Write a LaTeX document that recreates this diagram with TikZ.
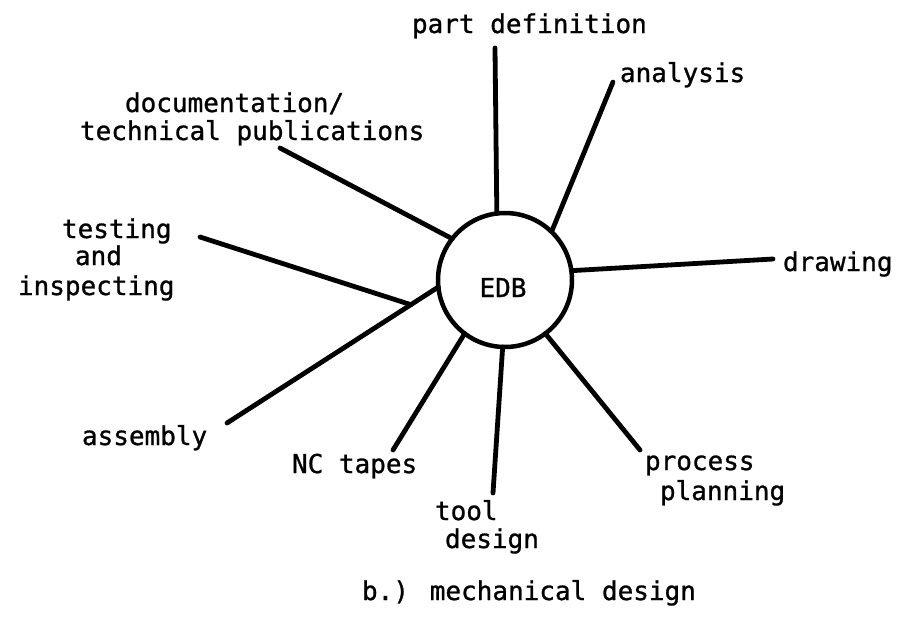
\documentclass[tikz,border=0pt]{standalone}
\usepackage{fontspec}
\newfontfamily\typewriter[FakeBold=1]{DejaVu Sans Mono}
\usetikzlibrary{calc}
\begin{document}
\begin{tikzpicture}[x=1pt,y=-1pt,
  spoke/.style={line width=4.8pt,line cap=round},
  lbl/.style={anchor=base west,inner sep=0pt,outer sep=0pt,
    font=\typewriter\fontsize{26}{28}\selectfont}]
\useasboundingbox (0,0) rectangle (911,629);

% central data base
\node[circle,draw,line width=4.5pt,minimum size=134pt,inner sep=0pt,outer sep=0pt] (edb) at (505,280) {};
\node[lbl,anchor=base] (edbtext) at (503,297) {EDB};

% free ends of the spokes
\coordinate (pdEnd)   at (495,48);
\coordinate (anEnd)   at (613,82);
\coordinate (docEnd)  at (280,148);
\coordinate (drEnd)   at (773,259);
\coordinate (testEnd) at (200,237);
\coordinate (asmEnd)  at (227,423);
\coordinate (ncEnd)   at (393,450);
\coordinate (toolEnd) at (493,493);
\coordinate (procEnd) at (640,450);

% spokes
\draw[spoke] (edb.97)  -- (pdEnd);
\draw[spoke] (edb.46)  -- (anEnd);
\draw[spoke] (edb.142) -- (docEnd);
\draw[spoke] (edb.8)   -- (drEnd);
\draw[spoke] (edb.186) -- (asmEnd);
\coordinate (testJoin) at ($(edb.186)!0.13!(asmEnd)$);
\draw[spoke] (testJoin) -- (testEnd);
\draw[spoke] (edb.233) -- (ncEnd);
\draw[spoke] (edb.268) -- (toolEnd);
\draw[spoke] (edb.307) -- (procEnd);

% labels
\node[lbl] (pd)    at (412,33)  {part definition};
\node[lbl] (an)    at (620,82)  {analysis};
\node[lbl] (doc1)  at (125,112) {documentation/};
\node[lbl] (doc2)  at (80,140)  {technical publications};
\node[lbl] (dr)    at (783,271) {drawing};
\node[lbl] (test1) at (62,238)  {testing};
\node[lbl] (test2) at (75,265)  {and};
\node[lbl] (test3) at (18,295)  {inspecting};
\node[lbl] (asm)   at (82,445)  {assembly};
\node[lbl] (nc)    at (292,473) {NC tapes};
\node[lbl] (tool1) at (435,520) {tool};
\node[lbl] (tool2) at (445,548) {design};
\node[lbl] (proc1) at (645,470) {process};
\node[lbl] (proc2) at (660,500) {planning};
\node[lbl] (cap)   at (362,600) {b.) mechanical design};
\end{tikzpicture}
\end{document}
